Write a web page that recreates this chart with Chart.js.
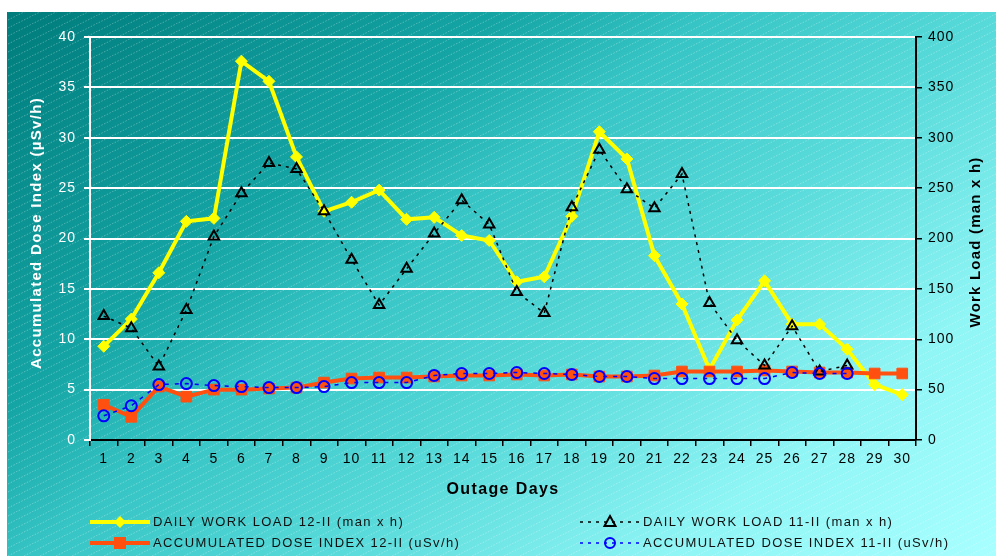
<!DOCTYPE html>
<html>
<head>
<meta charset="utf-8">
<script src="https://cdn.jsdelivr.net/npm/chart.js@4.4.1/dist/chart.umd.min.js"></script>
<style>
  html, body { margin: 0; padding: 0; background: #fff; }
  #wrap { width: 996px; height: 556px; }
</style>
</head>
<body>
<div id="wrap"><canvas id="grafico" width="996" height="556"></canvas></div>
<script>
const dias = ['1', '2', '3', '4', '5', '6', '7', '8', '9', '10', '11', '12', '13', '14', '15',
  '16', '17', '18', '19', '20', '21', '22', '23', '24', '25', '26', '27', '28', '29', '30'];

// work load (man x h) -> right axis
const carga12 = [93, 120, 166, 217, 220, 376, 356, 281, 227, 236, 248, 219, 221, 203, 198,
  157, 162, 222, 306, 279, 183, 135, 70, 119, 158, 115, 115, 90, 55, 45];
const carga11 = [123, 111, 73, 129, 202, 245, 275, 269, 227, 179, 134, 170, 205, 238, 214,
  147, 126, 231, 288, 249, 230, 264, 136, 99, 74, 113, 68, 74, null, null];

// accumulated dose index (uSv/h) -> left axis
const dosis12 = [3.5, 2.3, 5.3, 4.3, 5.0, 5.0, 5.1, 5.2, 5.7, 6.1, 6.2, 6.2, 6.3, 6.4, 6.4,
  6.5, 6.4, 6.5, 6.3, 6.3, 6.4, 6.8, 6.8, 6.8, 6.9, 6.8, 6.7, 6.7, 6.6, 6.6];
const dosis11 = [2.4, 3.4, 5.5, 5.6, 5.4, 5.3, 5.2, 5.2, 5.3, 5.7, 5.7, 5.7, 6.4, 6.6, 6.6,
  6.7, 6.6, 6.5, 6.3, 6.3, 6.1, 6.1, 6.1, 6.1, 6.1, 6.7, 6.6, 6.6, null, null];

const ticksDosis = [0, 5, 10, 15, 20, 25, 30, 35, 40];
const ticksCarga = [0, 50, 100, 150, 200, 250, 300, 350, 400];

const FUENTE = '"Liberation Sans", Arial, sans-serif';
const AMARILLO = '#ffff00';
const NARANJA = '#ff5010';
const AZUL = '#0000ff';

function rayas() {
  const c = document.createElement('canvas');
  c.width = 16;
  c.height = 8;
  const g = c.getContext('2d');
  g.strokeStyle = 'rgba(255,255,255,0.3)';
  g.lineWidth = 1;
  g.setLineDash([1.5, 1.5]);
  g.beginPath();
  g.moveTo(0, 8);
  g.lineTo(16, 0);
  g.stroke();
  return c;
}

function marcador(ctx, tipo, x, y, color) {
  ctx.save();
  ctx.setLineDash([]);
  ctx.beginPath();
  if (tipo === 'rectRot') {
    ctx.moveTo(x, y - 6); ctx.lineTo(x + 6, y); ctx.lineTo(x, y + 6); ctx.lineTo(x - 6, y);
    ctx.closePath();
    ctx.fillStyle = color;
    ctx.fill();
  } else if (tipo === 'rect') {
    ctx.fillStyle = color;
    ctx.fillRect(x - 6, y - 6, 12, 12);
  } else if (tipo === 'triangle') {
    ctx.moveTo(x, y - 6); ctx.lineTo(x + 5.5, y + 4); ctx.lineTo(x - 5.5, y + 4);
    ctx.closePath();
    ctx.strokeStyle = color;
    ctx.lineWidth = 2;
    ctx.stroke();
  } else {
    ctx.arc(x, y, 5, 0, Math.PI * 2);
    ctx.strokeStyle = color;
    ctx.lineWidth = 2;
    ctx.stroke();
  }
  ctx.restore();
}

const leyenda = [
  { texto: 'DAILY WORK LOAD 12-II (man x h)', x: 90, y: 522, color: AMARILLO, ancho: 4, dash: [], tipo: 'rectRot' },
  { texto: 'ACCUMULATED DOSE INDEX 12-II (uSv/h)', x: 90, y: 543, color: NARANJA, ancho: 4, dash: [], tipo: 'rect' },
  { texto: 'DAILY WORK LOAD 11-II (man x h)', x: 580, y: 522, color: '#000', ancho: 1.5, dash: [3, 5], tipo: 'triangle' },
  { texto: 'ACCUMULATED DOSE INDEX 11-II (uSv/h)', x: 580, y: 543, color: AZUL, ancho: 1.5, dash: [3, 5], tipo: 'circle' }
];

const titulos = [
  { texto: 'Outage Days', x: 503, y: 490, rot: 0, color: '#000', size: 16, esp: '1.4px' },
  { texto: 'Accumulated Dose Index (µSv/h)', x: 37, y: 233, rot: -Math.PI / 2, color: '#fff', size: 15, esp: '1.3px' },
  { texto: 'Work Load (man x h)', x: 976, y: 242, rot: -Math.PI / 2, color: '#000', size: 15, esp: '1.2px' }
];

const fondoPlugin = {
  id: 'fondo',
  beforeUpdate(chart) {
    chart.ctx.letterSpacing = '1px';
  },
  beforeDraw(chart) {
    const ctx = chart.ctx;
    ctx.save();
    const grad = ctx.createLinearGradient(7, 12, 658, 826);
    grad.addColorStop(0, '#007c7c');
    grad.addColorStop(0.3, '#15a5a5');
    grad.addColorStop(0.42, '#36c4c4');
    grad.addColorStop(0.6, '#58dada');
    grad.addColorStop(0.8, '#8ff5f5');
    grad.addColorStop(1, '#a8ffff');
    ctx.fillStyle = grad;
    ctx.fillRect(7, 12, 989, 544);
    ctx.fillStyle = ctx.createPattern(rayas(), 'repeat');
    ctx.fillRect(7, 12, 989, 544);
    ctx.restore();
    ctx.letterSpacing = '1px';
  },
  afterDraw(chart) {
    const ctx = chart.ctx;

    titulos.forEach(t => {
      ctx.save();
      ctx.translate(t.x, t.y);
      ctx.rotate(t.rot);
      ctx.fillStyle = t.color;
      ctx.font = 'bold ' + t.size + 'px ' + FUENTE;
      ctx.letterSpacing = t.esp;
      ctx.textAlign = 'center';
      ctx.textBaseline = 'middle';
      ctx.fillText(t.texto, 0, 0);
      ctx.restore();
    });

    leyenda.forEach(item => {
      ctx.save();
      ctx.strokeStyle = item.color;
      ctx.lineWidth = item.ancho;
      ctx.setLineDash(item.dash);
      ctx.beginPath();
      ctx.moveTo(item.x, item.y);
      ctx.lineTo(item.x + 60, item.y);
      ctx.stroke();
      marcador(ctx, item.tipo, item.x + 30, item.y, item.color);
      ctx.fillStyle = '#111';
      ctx.font = '13px ' + FUENTE;
      ctx.letterSpacing = '1.4px';
      ctx.textBaseline = 'middle';
      ctx.fillText(item.texto, item.x + 63, item.y);
      ctx.restore();
    });
  }
};

const grafico = new Chart(document.getElementById('grafico'), {
  type: 'line',
  data: {
    labels: dias,
    datasets: [
      {
        label: 'ACCUMULATED DOSE INDEX 11-II (uSv/h)',
        data: dosis11,
        yAxisID: 'y',
        order: 0,
        borderColor: AZUL,
        borderWidth: 1.5,
        borderDash: [4, 6],
        pointStyle: 'circle',
        pointRadius: 5.5,
        pointBorderWidth: 2,
        pointBorderColor: AZUL,
        pointBackgroundColor: 'rgba(0,0,0,0)'
      },
      {
        label: 'DAILY WORK LOAD 11-II (man x h)',
        data: carga11,
        yAxisID: 'y1',
        order: 1,
        borderColor: '#000',
        borderWidth: 1.5,
        borderDash: [3, 5],
        pointStyle: 'triangle',
        pointRadius: 6,
        pointBorderWidth: 2,
        pointBorderColor: '#000',
        pointBackgroundColor: 'rgba(0,0,0,0)'
      },
      {
        label: 'ACCUMULATED DOSE INDEX 12-II (uSv/h)',
        data: dosis12,
        yAxisID: 'y',
        order: 2,
        borderColor: NARANJA,
        borderWidth: 4,
        pointStyle: 'rect',
        pointRadius: 7.5,
        pointBorderWidth: 1,
        pointBorderColor: NARANJA,
        pointBackgroundColor: NARANJA
      },
      {
        label: 'DAILY WORK LOAD 12-II (man x h)',
        data: carga12,
        yAxisID: 'y1',
        order: 3,
        borderColor: AMARILLO,
        borderWidth: 4,
        pointStyle: 'rectRot',
        pointRadius: 6,
        pointBorderWidth: 1,
        pointBorderColor: AMARILLO,
        pointBackgroundColor: AMARILLO
      }
    ]
  },
  options: {
    responsive: false,
    devicePixelRatio: 1,
    animation: false,
    layout: { padding: { top: 37, left: 0, right: 0, bottom: 0 } },
    plugins: {
      legend: { display: false },
      tooltip: { enabled: false }
    },
    scales: {
      x: {
        offset: true,
        afterFit: s => { s.height = 116; },
        grid: { offset: true, drawOnChartArea: false, color: '#000', tickLength: 6, lineWidth: 1.5 },
        border: { color: '#000', width: 2 },
        ticks: { color: '#000', font: { family: FUENTE, size: 14 }, padding: 5, maxRotation: 0, autoSkip: false }
      },
      y: {
        position: 'left',
        min: 0,
        max: 40,
        afterFit: s => { s.width = 90; },
        afterBuildTicks: s => { s.ticks = ticksDosis.map(v => ({ value: v })); },
        grid: { color: '#fff', lineWidth: 2, tickLength: 6 },
        border: { color: '#fff', width: 2 },
        ticks: { color: '#fff', font: { family: FUENTE, size: 14 }, padding: 8 }
      },
      y1: {
        position: 'right',
        min: 0,
        max: 400,
        afterFit: s => { s.width = 80; },
        afterBuildTicks: s => { s.ticks = ticksCarga.map(v => ({ value: v })); },
        grid: { drawOnChartArea: false, color: '#000', lineWidth: 1.5, tickLength: 6 },
        border: { color: '#000', width: 2 },
        ticks: { color: '#000', font: { family: FUENTE, size: 14 }, padding: 6 }
      }
    }
  },
  plugins: [fondoPlugin]
});
</script>
</body>
</html>
